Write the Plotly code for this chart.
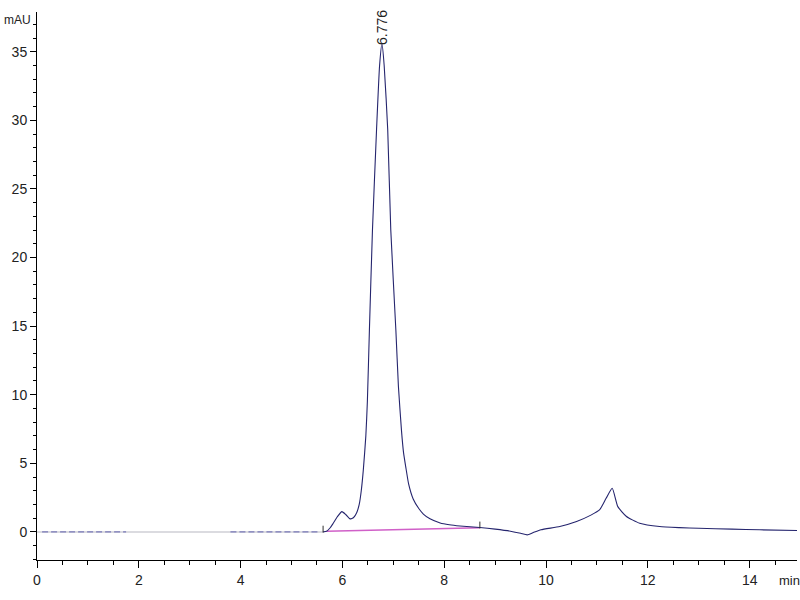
import plotly.graph_objects as go

# Chromatogram signal (time in min, absorbance in mAU)
time_min = [5.62, 5.69, 5.76, 5.82, 5.90, 5.99, 6.07, 6.15, 6.22, 6.28, 6.33, 6.37, 6.41, 6.46,
            6.49, 6.53, 6.59, 6.67, 6.73, 6.776, 6.82, 6.89, 6.95, 7.05, 7.10, 7.16, 7.20, 7.25,
            7.30, 7.39, 7.50, 7.59, 7.72, 7.92, 8.10, 8.31, 8.70, 9.00, 9.30, 9.50, 9.63, 9.75,
            9.90, 10.27, 10.60, 10.89, 11.05, 11.18, 11.30, 11.41, 11.58, 11.84, 12.23, 12.62,
            13.00, 13.65, 14.20, 14.93]
signal_mau = [0.0, 0.05, 0.3, 0.63, 1.1, 1.48, 1.25, 0.95, 1.05, 1.4, 2.0, 3.0, 4.5, 7.0,
              9.5, 14.7, 22.0, 29.3, 34.0, 35.6, 34.0, 29.3, 22.0, 14.7, 10.6, 7.4, 5.8, 4.6,
              3.5, 2.4, 1.7, 1.3, 0.95, 0.65, 0.52, 0.43, 0.32, 0.2, 0.05, -0.1, -0.22, -0.05,
              0.15, 0.39, 0.75, 1.24, 1.6, 2.45, 3.18, 1.84, 1.12, 0.63, 0.39, 0.31,
              0.26, 0.2, 0.15, 0.1]

# Flat pre-elution baseline segments (noise dashes)
flat_t = [0.1, 1.75, None, 3.8, 5.55]
flat_v = [0.0, 0.0, None, 0.0, 0.0]

# Integration baseline of the main peak
baseline_t = [5.69, 8.70]
baseline_v = [0.05, 0.30]

# Peak start / end markers
marker_t = [5.62, 8.70]
marker_v = [0.0, 0.30]

peak_rt = 6.776
peak_height = 35.6

FONT = "Liberation Sans Narrow, Liberation Sans, Arial"

fig = go.Figure()

fig.add_trace(go.Scatter(x=[0, 5.62], y=[0, 0], mode="lines",
                         line=dict(color="#cfcfd6", width=1.5), hoverinfo="skip"))
fig.add_trace(go.Scatter(x=flat_t, y=flat_v, mode="lines",
                         line=dict(color="#7a7ab8", width=1.2, dash="6px,3px"), hoverinfo="skip"))
fig.add_trace(go.Scatter(x=baseline_t, y=baseline_v, mode="lines",
                         line=dict(color="#d060c8", width=1.5), hoverinfo="skip"))
fig.add_trace(go.Scatter(x=time_min, y=signal_mau, mode="lines",
                         line=dict(color="#25256e", width=1.1, shape="spline", smoothing=0.5),
                         hoverinfo="skip"))
for t, v in zip(marker_t, marker_v):
    fig.add_trace(go.Scatter(x=[t, t], y=[v - 0.05, v + 0.45], mode="lines",
                             line=dict(color="#303030", width=1), hoverinfo="skip"))

fig.add_annotation(x=peak_rt, y=peak_height, text=f"{peak_rt:.3f}", textangle=-90,
                   showarrow=False, yanchor="bottom", xanchor="center", yshift=-3,
                   font=dict(size=14, color="#222222", family=FONT))
fig.add_annotation(xref="paper", yref="paper", x=-0.046, y=1.0, text="mAU", showarrow=False,
                   xanchor="left", yanchor="middle", yshift=-8,
                   font=dict(size=12, color="#222222", family=FONT))
fig.add_annotation(xref="paper", yref="paper", x=0.974, y=0, text="min", showarrow=False,
                   xanchor="left", yanchor="top", yshift=-11,
                   font=dict(size=13, color="#222222", family=FONT))

fig.update_layout(
    width=800, height=600,
    margin=dict(l=37, r=3, t=12, b=40, autoexpand=False),
    paper_bgcolor="white", plot_bgcolor="white",
    showlegend=False,
    font=dict(family=FONT, size=14, color="#222222"),
)
fig.update_xaxes(range=[0, 14.93], tickmode="linear", tick0=0, dtick=2, automargin=False,
                 ticks="outside", ticklen=7, tickcolor="black", showline=True,
                 linecolor="black", linewidth=1, showgrid=False, zeroline=False,
                 minor=dict(ticks="outside", dtick=0.5, ticklen=4, tickcolor="black"),
                 tickfont=dict(size=14))
fig.update_yaxes(range=[-2.05, 37.9], tickmode="linear", tick0=0, dtick=5, automargin=False,
                 ticks="outside", ticklen=6, tickcolor="black", showline=True,
                 linecolor="black", linewidth=1, showgrid=False, zeroline=False,
                 minor=dict(ticks="outside", dtick=1, ticklen=3, tickcolor="black"),
                 tickfont=dict(size=14))

fig.write_html("out.html", config={"displayModeBar": False},
               post_script="document.body.style.margin='0';document.body.style.overflow='hidden';")
